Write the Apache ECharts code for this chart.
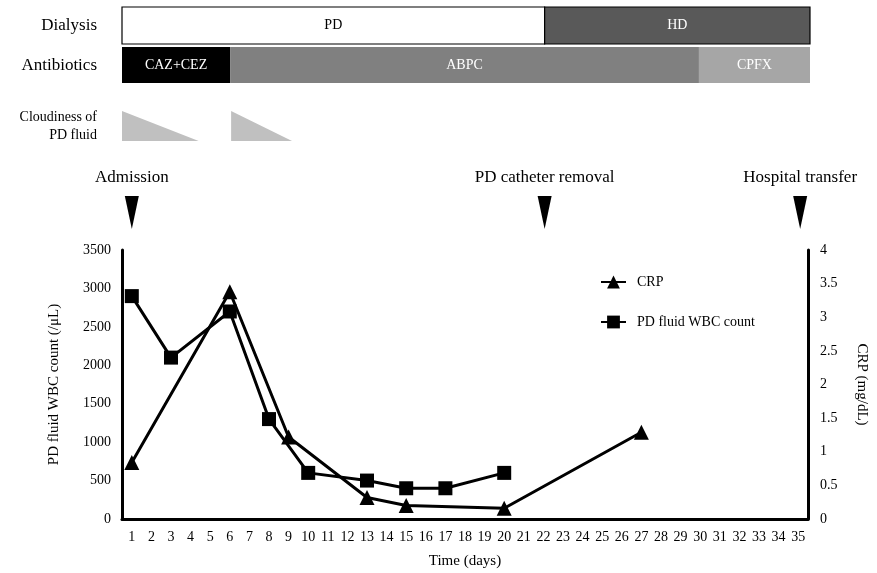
<!DOCTYPE html>
<html><head><meta charset="utf-8">
<script src="https://cdn.jsdelivr.net/npm/echarts@6/dist/echarts.min.js"></script>
<style>html,body{margin:0;padding:0;background:#fff}#c{width:877px;height:573px}</style>
</head><body><div id="c"></div>
<script>
const dayLabels = ['1','2','3','4','5','6','7','8','9','10','11','12','13','14','15','16','17','18','19','20','21','22','23','24','25','26','27','28','29','30','31','32','33','34','35'];
const wbcDays = [1, 3, 6, 8, 10, 13, 15, 17, 20];
const wbcValues = [2900, 2100, 2700, 1300, 600, 500, 400, 400, 600];
const crpDays = [1, 6, 9, 13, 15, 20, 27];
const crpValues = [0.84, 3.38, 1.22, 0.32, 0.2, 0.16, 1.29];
// periods in day units
const dialysisNames = ['PD', 'HD'];
const dialysisStart = [0.5, 22];
const dialysisEnd = [22, 35.5];
const antibioticNames = ['CAZ+CEZ', 'ABPC', 'CPFX'];
const antibioticStart = [0.5, 6, 29.85];
const antibioticEnd = [6, 29.85, 35.5];
const cloudStart = [0.5, 6.05];
const cloudEnd = [4.4, 9.15];
const eventNames = ['Admission', 'PD catheter removal', 'Hospital transfer'];
const eventDays = [1, 22, 35];
const rowLabels = ['Dialysis', 'Antibiotics', 'Cloudiness of\nPD fluid'];

const FONT = 'Liberation Serif';
const dialysisFill = {PD: '#ffffff', HD: '#595959'};
const dialysisText = {PD: '#000000', HD: '#ffffff'};
const abFill = {'CAZ+CEZ': '#000000', 'ABPC': '#808080', 'CPFX': '#a6a6a6'};

const chart = echarts.init(document.getElementById('c'), null, {renderer: 'canvas'});

function txt(text, x, y, size, color, align, lh) {
  return {type: 'text', x: x, y: y,
    style: {text: text, fill: color, fontFamily: FONT, fontSize: size, font: size + 'px ' + FONT,
      align: align, verticalAlign: 'middle', lineHeight: lh || size}};
}

function barItem(names, y0, y1, fills, texts, stroke) {
  return function(params, api) {
    const s = api.coord([api.value(0), 0])[0];
    const e = api.coord([api.value(1), 0])[0];
    const name = names[params.dataIndex];
    return {
      type: 'group',
      children: [
        {type: 'rect', shape: {x: s, y: y0, width: e - s, height: y1 - y0},
         style: {fill: fills[name], stroke: stroke ? '#000' : null, lineWidth: stroke ? 1.2 : 0}},
        txt(name, (s + e) / 2, (y0 + y1) / 2, 14, texts ? texts[name] : '#fff', 'center')
      ]
    };
  };
}

const option = {
  backgroundColor: '#fff',
  animation: false,
  grid: [
    {left: 122, right: 67, top: 250, bottom: 54},
    {left: 122, right: 67, top: 0, height: 240}
  ],
  xAxis: [
    {type: 'category', gridIndex: 0, data: dayLabels, boundaryGap: true,
     name: 'Time (days)', nameLocation: 'middle', nameGap: 35,
     nameTextStyle: {fontFamily: FONT, fontSize: 15, color: '#000'},
     axisLine: {lineStyle: {color: '#000', width: 3}}, axisTick: {show: false},
     axisLabel: {fontFamily: FONT, fontSize: 14, color: '#000', interval: 0, margin: 11}},
    {type: 'value', gridIndex: 1, min: 0.5, max: 35.5, show: false}
  ],
  yAxis: [
    {type: 'value', gridIndex: 0, min: 0, max: 3500, interval: 500,
     name: 'PD fluid WBC count (/μL)', nameLocation: 'middle', nameGap: 60,
     nameTextStyle: {fontFamily: FONT, fontSize: 15, color: '#000'},
     axisLine: {show: true, lineStyle: {color: '#000', width: 3}}, axisTick: {show: false},
     splitLine: {show: false},
     axisLabel: {fontFamily: FONT, fontSize: 14, color: '#000', margin: 11, formatter: v => String(v)}},
    {type: 'value', gridIndex: 0, min: 0, max: 4, interval: 0.5, position: 'right',
     name: 'CRP (mg/dL)', nameLocation: 'middle', nameGap: 46, nameRotate: -90,
     nameTextStyle: {fontFamily: FONT, fontSize: 15, color: '#000'},
     axisLine: {show: true, lineStyle: {color: '#000', width: 3}}, axisTick: {show: false},
     splitLine: {show: false},
     axisLabel: {fontFamily: FONT, fontSize: 14, color: '#000', margin: 12, formatter: v => String(v)}},
    {type: 'value', gridIndex: 1, min: 0, max: 1, show: false}
  ],
  legend: {
    orient: 'vertical', left: 595, top: 270, itemGap: 26, itemWidth: 25, itemHeight: 16,
    data: ['CRP', 'PD fluid WBC count'],
    textStyle: {fontFamily: FONT, fontSize: 14, color: '#000', padding: [0, 0, 0, 6]}
  },
  series: [
    {name: 'CRP', type: 'line', xAxisIndex: 0, yAxisIndex: 1,
     data: crpDays.map((d, i) => [String(d), crpValues[i]]),
     symbol: 'triangle', symbolSize: 15,
     lineStyle: {color: '#000', width: 3}, itemStyle: {color: '#000'}},
    {name: 'PD fluid WBC count', type: 'line', xAxisIndex: 0, yAxisIndex: 0,
     data: wbcDays.map((d, i) => [String(d), wbcValues[i]]),
     symbol: 'rect', symbolSize: 14,
     lineStyle: {color: '#000', width: 3}, itemStyle: {color: '#000'}},
    {type: 'custom', xAxisIndex: 1, yAxisIndex: 2, silent: true,
     data: dialysisNames.map((n, i) => [dialysisStart[i], dialysisEnd[i]]),
     renderItem: barItem(dialysisNames, 7, 44, dialysisFill, dialysisText, true)},
    {type: 'custom', xAxisIndex: 1, yAxisIndex: 2, silent: true,
     data: antibioticNames.map((n, i) => [antibioticStart[i], antibioticEnd[i]]),
     renderItem: barItem(antibioticNames, 47, 83, abFill, null, false)},
    {type: 'custom', xAxisIndex: 1, yAxisIndex: 2, silent: true,
     data: cloudStart.map((s, i) => [s, cloudEnd[i]]),
     renderItem: function(params, api) {
       const s = api.coord([api.value(0), 0])[0];
       const e = api.coord([api.value(1), 0])[0];
       return {type: 'polygon', shape: {points: [[s, 111], [e, 141], [s, 141]]}, style: {fill: '#c0c0c0'}};
     }},
    {type: 'custom', xAxisIndex: 1, yAxisIndex: 2, silent: true,
     data: eventDays.map(d => [d, 0]),
     renderItem: function(params, api) {
       const x = api.coord([api.value(0), 0])[0];
       return {type: 'group', children: [
         txt(eventNames[params.dataIndex], x, 178, 17, '#000', 'center'),
         {type: 'polygon', shape: {points: [[x - 7, 196], [x + 7, 196], [x, 229]]}, style: {fill: '#000'}}
       ]};
     }}
  ],
  graphic: [
    txt(rowLabels[0], 97, 26, 17, '#000', 'right'),
    txt(rowLabels[1], 97, 66, 17, '#000', 'right'),
    txt(rowLabels[2], 97, 126, 14, '#000', 'right', 18)
  ]
};
chart.setOption(option);
</script>
</body></html>
